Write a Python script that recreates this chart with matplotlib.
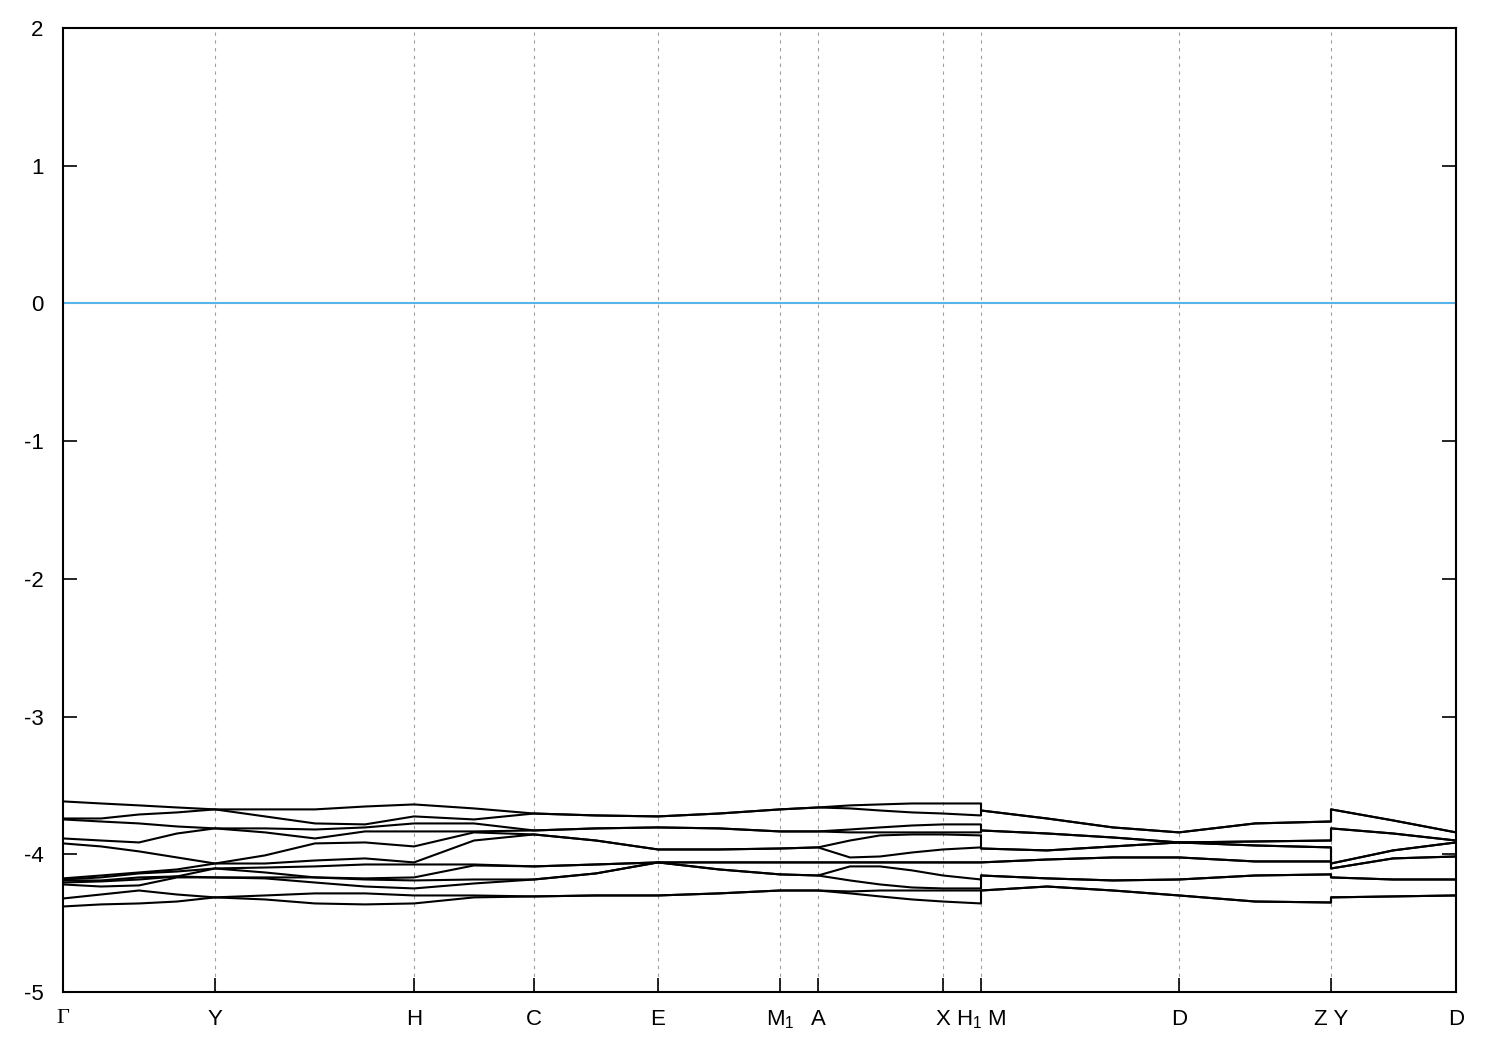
import matplotlib
matplotlib.use("Agg")
import matplotlib.pyplot as plt

plt.rcParams['font.family'] = ['Liberation Sans', 'DejaVu Sans']
plt.rcParams['mathtext.fontset'] = 'custom'
plt.rcParams['mathtext.rm'] = 'Liberation Sans'
plt.rcParams['mathtext.it'] = 'Liberation Sans'

# k-path distances (arbitrary units); repeated values mark path breaks
kdist = [0.000, 0.038, 0.076, 0.114, 0.152, 0.202, 0.252, 0.302, 0.351, 0.411,
         0.471, 0.533, 0.595, 0.656, 0.717, 0.755, 0.787, 0.817, 0.849, 0.880,
         0.918, 0.918, 0.984, 1.050, 1.116, 1.192, 1.268, 1.268, 1.330, 1.393]

tick_pos = [0.000, 0.152, 0.351, 0.471, 0.595, 0.717, 0.755, 0.880, 0.918, 1.116, 1.268, 1.393]
tick_labels = ['Γ', 'Y', 'H', 'C', 'E', 'M$_1$', 'A', 'X', 'H$_1$ M', 'D', 'Z Y', 'D']

band0 = [-3.616, -3.631, -3.645, -3.660, -3.674, -3.674, -3.674, -3.653, -3.638, -3.667,
         -3.704, -3.718, -3.725, -3.704, -3.674, -3.660, -3.645, -3.638, -3.631, -3.631,
         -3.631, -3.682, -3.740, -3.805, -3.841, -3.776, -3.762, -3.674, -3.754, -3.841]
band1 = [-3.740, -3.740, -3.711, -3.696, -3.674, -3.725, -3.776, -3.783, -3.725, -3.747,
         -3.704, -3.718, -3.725, -3.704, -3.674, -3.660, -3.667, -3.682, -3.696, -3.704,
         -3.718, -3.682, -3.740, -3.805, -3.841, -3.776, -3.762, -3.674, -3.754, -3.841]
band2 = [-3.747, -3.762, -3.776, -3.798, -3.812, -3.812, -3.820, -3.805, -3.776, -3.776,
         -3.827, -3.812, -3.805, -3.812, -3.834, -3.834, -3.820, -3.805, -3.791, -3.783,
         -3.783, -3.827, -3.849, -3.878, -3.914, -3.907, -3.900, -3.812, -3.849, -3.900]
band3 = [-3.885, -3.900, -3.914, -3.849, -3.812, -3.841, -3.885, -3.834, -3.834, -3.834,
         -3.827, -3.812, -3.805, -3.812, -3.834, -3.834, -3.841, -3.841, -3.841, -3.841,
         -3.841, -3.827, -3.849, -3.878, -3.914, -3.907, -3.900, -3.812, -3.849, -3.900]
band4 = [-3.921, -3.943, -3.979, -4.023, -4.067, -4.008, -3.921, -3.914, -3.943, -3.841,
         -3.856, -3.900, -3.965, -3.965, -3.958, -3.950, -3.900, -3.863, -3.856, -3.856,
         -3.863, -3.958, -3.972, -3.943, -3.914, -3.936, -3.950, -4.067, -3.972, -3.914]
band5 = [-4.175, -4.154, -4.132, -4.110, -4.067, -4.067, -4.045, -4.030, -4.059, -3.900,
         -3.856, -3.900, -3.965, -3.965, -3.958, -3.950, -4.023, -4.016, -3.987, -3.965,
         -3.950, -3.958, -3.972, -3.943, -3.914, -3.936, -3.950, -4.067, -3.972, -3.914]
band6 = [-4.183, -4.168, -4.139, -4.125, -4.103, -4.096, -4.088, -4.074, -4.074, -4.074,
         -4.088, -4.074, -4.059, -4.059, -4.059, -4.059, -4.059, -4.059, -4.059, -4.059,
         -4.059, -4.059, -4.038, -4.023, -4.023, -4.052, -4.052, -4.103, -4.030, -4.016]
band7 = [-4.190, -4.190, -4.168, -4.161, -4.103, -4.132, -4.168, -4.175, -4.168, -4.081,
         -4.088, -4.074, -4.059, -4.059, -4.059, -4.059, -4.059, -4.059, -4.059, -4.059,
         -4.059, -4.059, -4.038, -4.023, -4.023, -4.052, -4.052, -4.103, -4.030, -4.016]
band8 = [-4.205, -4.197, -4.183, -4.161, -4.168, -4.168, -4.168, -4.183, -4.190, -4.183,
         -4.183, -4.139, -4.059, -4.110, -4.146, -4.154, -4.088, -4.088, -4.117, -4.154,
         -4.183, -4.154, -4.175, -4.190, -4.183, -4.154, -4.146, -4.168, -4.183, -4.183]
band9 = [-4.219, -4.234, -4.226, -4.168, -4.168, -4.175, -4.205, -4.234, -4.248, -4.212,
         -4.183, -4.139, -4.059, -4.110, -4.146, -4.154, -4.190, -4.219, -4.241, -4.248,
         -4.248, -4.154, -4.175, -4.190, -4.183, -4.154, -4.146, -4.168, -4.183, -4.183]
band10 = [-4.321, -4.292, -4.263, -4.292, -4.313, -4.299, -4.284, -4.284, -4.299, -4.299,
          -4.306, -4.299, -4.299, -4.284, -4.263, -4.263, -4.270, -4.263, -4.263, -4.263,
          -4.263, -4.263, -4.234, -4.263, -4.299, -4.343, -4.350, -4.313, -4.306, -4.299]
band11 = [-4.379, -4.364, -4.357, -4.343, -4.313, -4.328, -4.357, -4.364, -4.357, -4.313,
          -4.306, -4.299, -4.299, -4.284, -4.263, -4.263, -4.284, -4.306, -4.328, -4.343,
          -4.357, -4.263, -4.234, -4.263, -4.299, -4.343, -4.350, -4.313, -4.306, -4.299]

bands = [band0, band1, band2, band3, band4, band5, band6, band7, band8, band9, band10, band11]

fermi_level = 0.0
y_ticks = [-5, -4, -3, -2, -1, 0, 1, 2]

fig = plt.figure(figsize=(15, 10.5), dpi=100)
ax = fig.add_axes([63 / 1500, 1 - 992 / 1050, (1456 - 63) / 1500, (992 - 28) / 1050])

for pos in tick_pos[1:-1]:
    ax.axvline(pos, color='#a0a0a0', lw=0.8, ls=(0, (3, 4)), zorder=1)

ax.axhline(fermi_level, color='#56b4e9', lw=1.5, zorder=2)

for b in bands:
    ax.plot(kdist, b, color='black', lw=1.5, zorder=3)

ax.set_xlim(kdist[0], kdist[-1])
ax.set_ylim(-5, 2)
ax.set_yticks(y_ticks)
ax.set_yticklabels([str(v) for v in y_ticks])
ax.set_xticks(tick_pos)
ax.set_xticklabels(tick_labels)
for lbl in ax.get_xticklabels():
    if lbl.get_text() == 'Γ':
        lbl.set_fontfamily(['Liberation Serif', 'DejaVu Serif'])

ax.tick_params(axis='y', direction='in', length=10, width=1.2, labelsize=16,
               pad=14, right=True)
ax.tick_params(axis='x', direction='in', length=10, width=1.2, labelsize=16,
               pad=12, top=False)
for s in ax.spines.values():
    s.set_linewidth(1.5)

fig.savefig('out.png', dpi=100)
